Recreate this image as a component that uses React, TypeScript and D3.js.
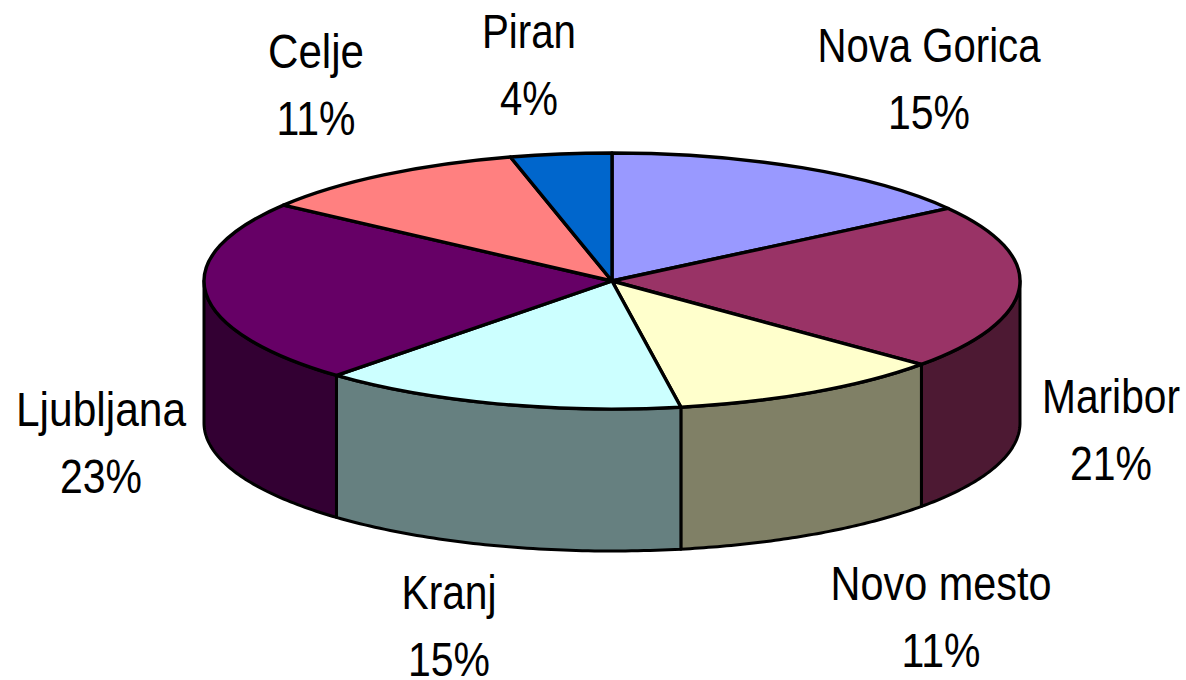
import React from 'react'
import * as d3 from 'd3'

const cities = ['Nova Gorica', 'Maribor', 'Novo mesto', 'Kranj', 'Ljubljana', 'Celje', 'Piran']
// estimated from the wedge edges, the printed labels are these rounded
const shares = [15.4, 20.9, 11.0, 14.5, 23.3, 10.9, 4.0]
const topColors = ['#9999FF', '#993366', '#FFFFCC', '#CCFFFF', '#660066', '#FF8080', '#0066CC']
const wallColors = ['#4D4D80', '#4D1933', '#808066', '#668080', '#330033', '#804040', '#003366']
// label centre x, first baseline y, horizontal squeeze of both lines
const labelX = [929, 1111, 941, 449, 101, 316, 529]
const labelY = [62, 413, 600, 609, 426, 68, 48]
const nameStretch = [0.836, 0.848, 0.863, 0.848, 0.885, 0.878, 0.839]
const pctStretch = [0.854, 0.854, 0.854, 0.854, 0.854, 0.854, 0.836]

const width = 1186
const height = 680
const cx = 612
const cy = 281
const rx = 408
const ry = 128
const depth = 142

const pie = d3.pie<number>().sort(null).value(d => d)
const arcs = pie(shares)
const topArc = d3.arc<d3.PieArcDatum<number>>().innerRadius(0).outerRadius(1)

// d3.arc angles are clockwise from 12 o'clock, same thing here but squashed
const px = (a: number) => cx + rx * Math.sin(a)
const py = (a: number) => cy - ry * Math.cos(a)

const wallPath = (a0: number, a1: number) => {
  const steps = d3.range(0, 61).map(i => d3.interpolateNumber(a0, a1)(i / 60))
  const line = d3.line<[number, number]>()
  const upper = steps.map(a => [px(a), py(a)] as [number, number])
  const lower = steps.slice().reverse().map(a => [px(a), py(a) + depth] as [number, number])
  return line([...upper, ...lower]) + 'Z'
}

const App = () => {
  return (
    <svg
      width={width}
      height={height}
      style={{ position: 'absolute', left: 0, top: 0, display: 'block', background: '#fff' }}
    >
      <g stroke="#000" strokeWidth={3} strokeLinejoin="round">
        {arcs.map((d, i) => {
          const a0 = Math.max(d.startAngle, Math.PI / 2)
          const a1 = Math.min(d.endAngle, (3 * Math.PI) / 2)
          if (a1 <= a0) return null
          return <path key={cities[i]} d={wallPath(a0, a1)} fill={wallColors[i]} />
        })}
      </g>
      <g transform={`translate(${cx},${cy}) scale(${rx},${ry})`}>
        {arcs.map((d, i) => (
          <path
            key={cities[i]}
            d={topArc(d) as string}
            fill={topColors[i]}
            stroke="#000"
            strokeWidth={3.4}
            strokeLinejoin="round"
            vectorEffect="non-scaling-stroke"
          />
        ))}
      </g>
      <g fontFamily="'Liberation Sans', Arial, sans-serif" fontSize={48} textAnchor="middle" fill="#000">
        {cities.map((c, i) => (
          <g key={c} transform={`translate(${labelX[i]},${labelY[i]})`}>
            <text transform={`scale(${nameStretch[i]},1)`}>{c}</text>
            <text transform={`translate(0,67) scale(${pctStretch[i]},1)`}>
              {Math.round(shares[i])}%
            </text>
          </g>
        ))}
      </g>
    </svg>
  )
}

export default App
